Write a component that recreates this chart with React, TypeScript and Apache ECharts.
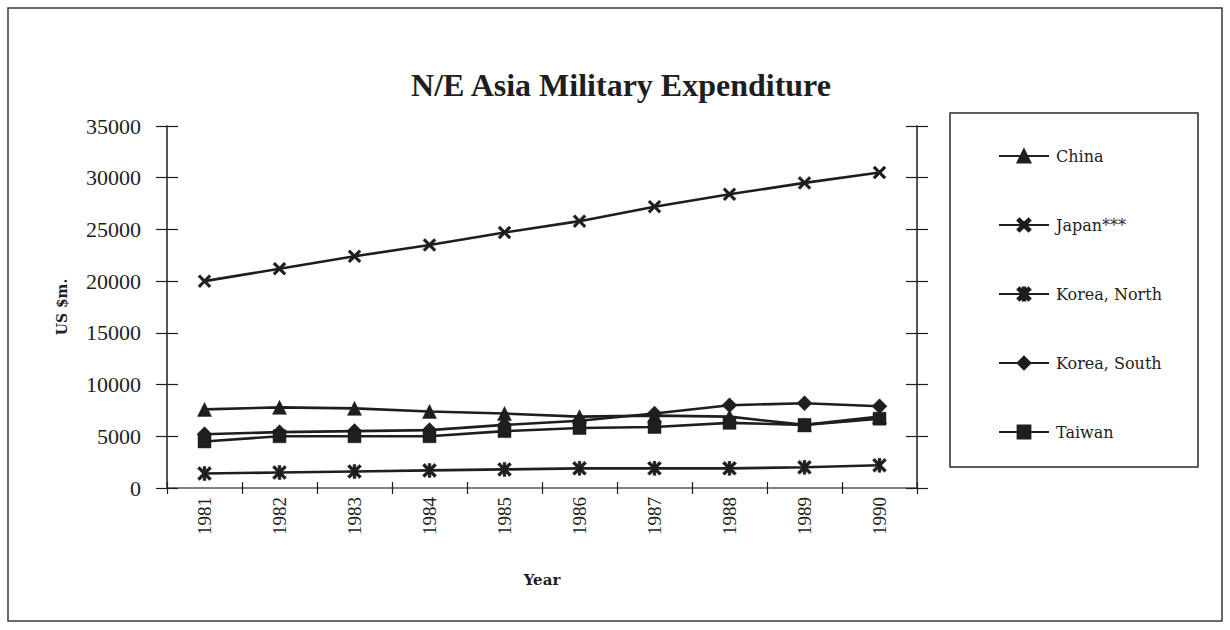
import React, { useEffect, useRef } from "react";
import * as echarts from "echarts";

const years = ["1981", "1982", "1983", "1984", "1985", "1986", "1987", "1988", "1989", "1990"];
const seriesNames = ["China", "Japan***", "Korea, North", "Korea, South", "Taiwan"];
const china = [7600, 7800, 7700, 7400, 7200, 6900, 7000, 6900, 6100, 6900];
const japan = [20000, 21200, 22400, 23500, 24700, 25800, 27200, 28400, 29500, 30500];
const koreaNorth = [1400, 1500, 1600, 1700, 1800, 1900, 1900, 1900, 2000, 2200];
const koreaSouth = [5200, 5400, 5500, 5600, 6100, 6500, 7200, 8000, 8200, 7900];
const taiwan = [4500, 5000, 5000, 5000, 5500, 5800, 5900, 6300, 6100, 6700];
const yTicks = { min: 0, max: 35000, interval: 5000 };

const INK = "#1e1e1e";
const SERIF = "'Liberation Serif', 'Times New Roman', serif";
const WIDE_SERIF = "'DejaVu Serif', serif";

const X_PATH =
  "path://M0,1.5 L1.5,0 L5,3.5 L8.5,0 L10,1.5 L6.5,5 L10,8.5 L8.5,10 L5,6.5 L1.5,10 L0,8.5 L3.5,5 Z";
const STAR_PATH =
  "path://M0,1.5 L1.5,0 L5,3.5 L8.5,0 L10,1.5 L6.5,5 L10,8.5 L8.5,10 L5,6.5 L1.5,10 L0,8.5 L3.5,5 Z M4,0 L6,0 L6,10 L4,10 Z";

export default function App() {
  const ref = useRef<HTMLDivElement>(null);

  useEffect(() => {
    if (!ref.current) return;
    const chart = echarts.init(ref.current, null, { renderer: "svg" });
    const dataSets = [china, japan, koreaNorth, koreaSouth, taiwan];
    const symbols = ["triangle", X_PATH, STAR_PATH, "diamond", "rect"];
    const sizes = [14, 13, 14, 15, 13];

    const tickY = (position: string, inside: boolean, line: boolean) => ({
      type: "value",
      position,
      ...yTicks,
      axisLine: { show: line, lineStyle: { color: INK, width: 1.5 } },
      axisTick: { show: true, inside, length: 11, lineStyle: { color: INK, width: 1.2 } },
      axisLabel: { show: false },
      splitLine: { show: false },
    });

    chart.setOption({
      animation: false,
      backgroundColor: "#ffffff",
      title: {
        text: "N/E Asia Military Expenditure",
        left: 616,
        textAlign: "center",
        top: 64,
        textStyle: { fontFamily: SERIF, fontWeight: "bold", fontSize: 32, color: INK },
      },
      grid: { left: 167, right: 313, top: 126, bottom: 142, containLabel: false },
      legend: {
        orient: "vertical",
        left: 993,
        top: 143,
        itemWidth: 50,
        itemHeight: 16,
        itemGap: 53,
        data: seriesNames,
        textStyle: { fontFamily: WIDE_SERIF, fontSize: 16, color: INK, padding: [0, 0, 0, 2] },
      },
      xAxis: [
        {
          type: "category",
          position: "bottom",
          data: years,
          boundaryGap: true,
          axisLine: { show: true, lineStyle: { color: INK, width: 1.5 } },
          axisTick: { show: true, length: 6, interval: 0, lineStyle: { color: INK, width: 1.2 } },
          axisLabel: {
            rotate: 90,
            margin: 9,
            interval: 0,
            fontFamily: SERIF,
            fontSize: 19,
            color: INK,
          },
          name: "Year",
          nameLocation: "middle",
          nameGap: 84,
          nameTextStyle: { fontFamily: WIDE_SERIF, fontWeight: "bold", fontSize: 15, color: INK },
        },
        {
          type: "category",
          position: "bottom",
          data: years,
          boundaryGap: true,
          axisLine: { show: false },
          axisTick: { show: true, inside: true, length: 6, interval: 0, lineStyle: { color: INK, width: 1.2 } },
          axisLabel: { show: false },
        },
        {
          type: "category",
          position: "top",
          data: years,
          boundaryGap: true,
          axisLine: { show: true, lineStyle: { color: "#9a9a9a", width: 1.5, type: "dotted" } },
          axisTick: { show: false },
          axisLabel: { show: false },
        },
      ],
      yAxis: [
        {
          type: "value",
          position: "left",
          ...yTicks,
          axisLine: { show: true, lineStyle: { color: INK, width: 1.5 } },
          axisTick: { show: true, length: 11, lineStyle: { color: INK, width: 1.2 } },
          axisLabel: {
            margin: 26,
            fontFamily: SERIF,
            fontSize: 22,
            color: INK,
            formatter: (v: number) => String(v),
          },
          splitLine: { show: false },
          name: "US $m.",
          nameLocation: "middle",
          nameGap: 98,
          nameTextStyle: { fontFamily: WIDE_SERIF, fontWeight: "bold", fontSize: 14, color: INK },
        },
        tickY("left", true, false),
        tickY("right", false, true),
        tickY("right", true, false),
      ],
      series: seriesNames.map((name, i) => ({
        name,
        type: "line",
        xAxisIndex: 0,
        yAxisIndex: 0,
        data: dataSets[i],
        symbol: symbols[i],
        symbolSize: sizes[i],
        showAllSymbol: true,
        lineStyle: { color: INK, width: 2.6 },
        itemStyle: { color: INK, borderColor: INK, borderWidth: 0.5 },
        emphasis: { disabled: true },
      })),
      graphic: [
        {
          type: "rect",
          shape: { x: 8, y: 8, width: 1214, height: 613 },
          style: { fill: "none", stroke: "#3a3a3a", lineWidth: 1.5 },
          silent: true,
        },
        {
          type: "rect",
          shape: { x: 950, y: 113, width: 248, height: 354 },
          style: { fill: "none", stroke: "#2a2a2a", lineWidth: 1.5 },
          silent: true,
        },
      ],
    });
    return () => chart.dispose();
  }, []);

  return (
    <div
      ref={ref}
      style={{ position: "absolute", left: 0, top: 0, width: 1230, height: 630, background: "#fff" }}
    />
  );
}
